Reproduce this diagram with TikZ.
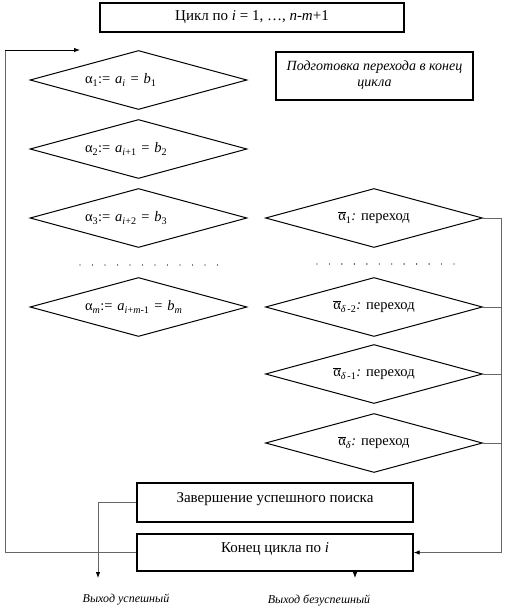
\documentclass[tikz,border=0pt]{standalone}
\usepackage{fontspec}
\setmainfont{Liberation Serif}
\usetikzlibrary{shapes.geometric,arrows.meta}
\newcommand{\cond}{\node[shape = diamond, draw = black, line width = 1pt, aspect = 3.6, minimum width = 217pt, minimum height = 59pt, inner sep = 0pt, font = \fontsize{14.5}{16}\selectfont]}
\newcommand{\blok}{\node[shape = rectangle, draw = black, line width = 1.3pt, font = \fontsize{15}{17}\selectfont, text height = 10pt, text depth = 10pt]}
\newcommand{\ind}[1]{\textsubscript{#1}}
\newcommand{\nalf}[1]{$\overline{\mbox{α}}$\ind{#1}\textit{:} переход}
\tikzset{link/.style = {draw = black!60, line width = 0.8pt},
	lft/.style = {text width = 107pt, align = left},
	exit/.style = {font = \fontsize{12}{14}\selectfont\itshape}}

\begin{document}
\begin{tikzpicture}[x = 1pt, y = -1pt, >={Latex[length=6pt,width=4.5pt,color=black]}]
					\useasboundingbox (0,0) rectangle (504,610);
					\blok[minimum width = 304pt, minimum height = 29pt, text height = 10pt, text depth = 4pt] (loop) at (252,17.5) {Цикл по \textit{i} = 1, …, \textit{n}-\textit{m}+1};
					\node[shape = rectangle, draw = black, line width = 1.3pt, minimum width = 197pt, minimum height = 48pt, inner sep = 2pt, align = center, font = \fontsize{14}{16}\selectfont\itshape] (prep) at (374.5,76) {Подготовка перехода в конец\\цикла\\[-12pt]};
					\cond[lft] (a1) at (138.5,80) {α\ind{1}:=\ \textit{a}\ind{\textit{i}} = \textit{b}\ind{1}};
					\cond[lft] (a2) at (138.5,149) {α\ind{2}:=\ \textit{a}\ind{\textit{i}+1} = \textit{b}\ind{2}};
					\cond[lft] (a3) at (138.5,218) {α\ind{3}:=\ \textit{a}\ind{\textit{i}+2} = \textit{b}\ind{3}};
					\cond[lft] (am) at (138.5,307) {α\ind{\textit{m}}:=\ \textit{a}\ind{\textit{i}+\textit{m}-1} = \textit{b}\ind{\textit{m}}};
					\cond (n1) at (374,218) {\nalf{1}};
					\cond (nd2) at (374,307) {\nalf{\textit{δ}\,-2}};
					\cond (nd1) at (374,374) {\nalf{\textit{δ}\,-1}};
					\cond (nd) at (374,443) {\nalf{\textit{δ}}};
					\foreach \k in {0,...,11} {
						\fill (80+\k*12.5,265) circle (0.7pt);
						\fill (317+\k*12.45,264) circle (0.7pt);
					}
					\blok[minimum width = 276pt, minimum height = 39pt] (ok) at (275,502.5) {Завершение успешного поиска};
					\blok[minimum width = 276pt, minimum height = 37pt] (endl) at (275,552.5) {Конец цикла по \textit{i}};
					\node[exit] (lok) at (126,600) {Выход успешный};
					\node[exit] (lno) at (319,600) {Выход безуспешный};
					\coordinate (in) at (80,50);
					\coordinate (rt) at (501,218);
					\coordinate (exok) at (98,578);
					\coordinate (exno) at (355,578);
					\path[link] (endl.west) -- (5,552.5) -- (5,50) edge[->, draw = black] (in);
					\path[link, ->] (n1.east) -- (rt) |- (endl.east);
					\path[link] (nd2.east) -- (nd2.east -| rt);
					\path[link] (nd1.east) -- (nd1.east -| rt);
					\path[link] (nd.east) -- (nd.east -| rt);
					\path[link, ->] (ok.west) -| (exok);
					\path[link, ->] (exno |- endl.south) -- (exno);
				\end{tikzpicture}
\end{document}
